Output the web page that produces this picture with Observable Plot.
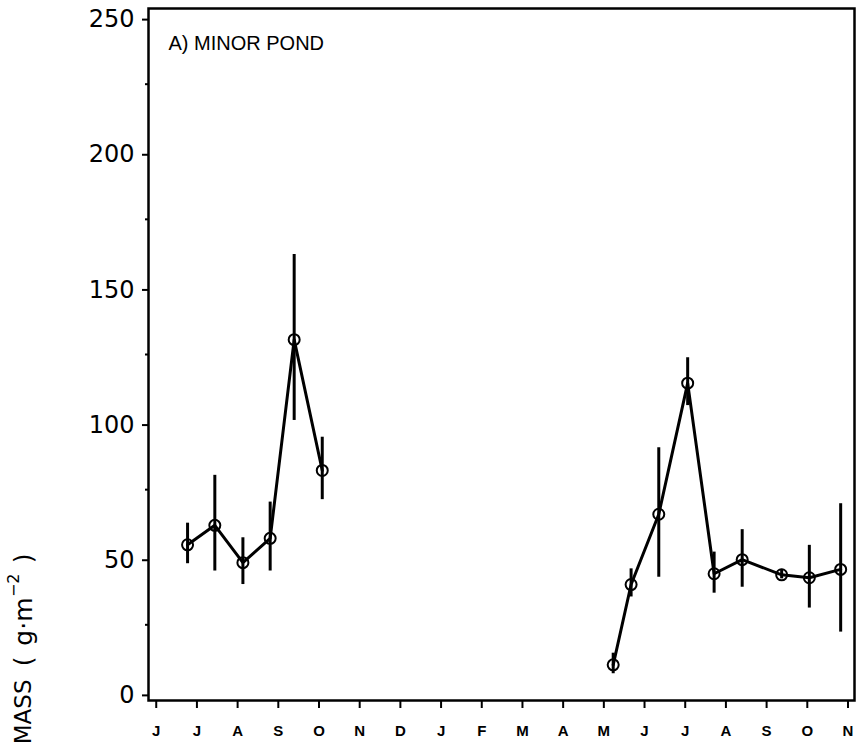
<!DOCTYPE html>
<html><head><meta charset="utf-8">
<script src="https://cdn.jsdelivr.net/npm/d3@7"></script>
<script src="https://cdn.jsdelivr.net/npm/@observablehq/plot@0.6"></script>
<style>body{margin:0;background:#fff}</style>
</head><body><div id="chart"></div>
<script>
// month tick labels (June of year 1 through November of year 2)
const monthLabels = ["J","J","A","S","O","N","D","J","F","M","A","M","J","J","A","S","O","N"];
const monthIdx = d3.range(monthLabels.length);
// sampling time expressed in months after the first June tick
const sampleTime = [0.77, 1.44, 2.13, 2.80, 3.39, 4.08, 11.23, 11.67, 12.35, 13.06, 13.71, 14.40, 15.37, 16.05, 16.82];
const season     = [1, 1, 1, 1, 1, 1, 2, 2, 2, 2, 2, 2, 2, 2, 2];
const biomass    = [54.6, 61.8, 48.0, 57.0, 130.5, 82.1, 10.2, 39.9, 65.9, 114.4, 43.9, 49.1, 43.5, 42.4, 45.5];
const errLow     = [47.6, 44.9, 39.9, 44.9, 100.6, 71.3, 6.9, 35.3, 42.6, 106.1, 36.7, 38.9, 42.0, 31.2, 22.3];
const errHigh    = [62.6, 80.3, 57.2, 70.4, 162.0, 94.4, 14.5, 45.7, 90.5, 123.8, 51.9, 60.2, 45.5, 54.4, 69.8];
const yMajor = [0, 50, 100, 150, 200, 250];
const yMinor = [25, 75, 125, 175, 225];
const panelTitle = "A) MINOR POND";
const yLabelMain = "MASS";
const yLabelOpen = "(";
const yLabelUnit = "g·m";
const yLabelExp = "−2";
const yLabelClose = ")";

const data = sampleTime.map((t, i) => ({t, season: season[i], mass: biomass[i], lo: errLow[i], hi: errHigh[i]}));

const rot = {frameAnchor: "bottom-left", rotate: -90, textAnchor: "end", lineAnchor: "middle",
  fontFamily: "DejaVu Sans", fill: "black"};

const chart = Plot.plot({
  width: 856, height: 746,
  marginLeft: 148, marginRight: 2, marginTop: 8, marginBottom: 46,
  x: {domain: [-0.19, 17.16], label: null},
  y: {domain: [-3, 253], label: null},
  style: {background: "white", color: "black"},
  marks: [
    Plot.axisY(yMinor, {tickSize: 3, text: null, strokeWidth: 2}),
    Plot.axisY(yMajor, {tickSize: 6, tickPadding: 8, dy: 3, fontSize: 24, fontFamily: "DejaVu Sans", strokeWidth: 2}),
    Plot.axisX(monthIdx, {tickSize: 8, tickPadding: 17, tickFormat: i => monthLabels[i], fontSize: 15,
      fontWeight: "bold", fontFamily: "Liberation Sans", strokeWidth: 2}),
    Plot.frame({stroke: "black", strokeWidth: 2.5}),
    Plot.ruleX(data, {x: "t", y1: "lo", y2: "hi", stroke: "black", strokeWidth: 3}),
    Plot.line(data, {x: "t", y: "mass", z: "season", stroke: "black", strokeWidth: 3}),
    Plot.dot(data, {x: "t", y: "mass", r: 5.5, stroke: "black", strokeWidth: 2, fill: "none"}),
    Plot.text([panelTitle], {frameAnchor: "top-left", dx: 20, dy: 35, textAnchor: "start", lineAnchor: "middle",
      fontSize: 20, fontFamily: "Liberation Sans", fill: "black"}),
    Plot.text([yLabelMain], {...rot, dx: -125, dy: -21, fontSize: 23}),
    Plot.text([yLabelOpen], {...rot, dx: -125, dy: -44, fontSize: 25}),
    Plot.text([yLabelUnit], {...rot, dx: -125, dy: -103, fontSize: 25}),
    Plot.text([yLabelExp], {...rot, dx: -135, dy: -127, fontSize: 16}),
    Plot.text([yLabelClose], {...rot, dx: -125, dy: -147, fontSize: 25})
  ]
});
document.getElementById("chart").appendChild(chart);
</script>
</body></html>
